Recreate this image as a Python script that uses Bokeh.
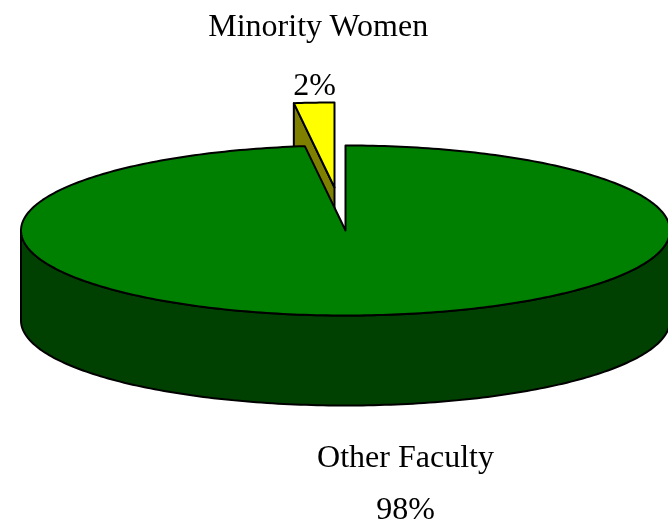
import numpy as np
from bokeh.plotting import figure
from bokeh.embed import file_html
from bokeh.resources import INLINE
from bokeh.core.properties import value

categories = ["Minority Women", "Other Faculty"]
shares = [2, 98]
percent_labels = ["2%", "98%"]
colors_top = ["#FFFF00", "#008000"]
colors_side = ["#808000", "#004000"]

CX, CY, RX, RY, DEPTH = 345, 230, 324.5, 85, 90
EXPLODE_DX, EXPLODE_DY = -11, -43
FONT = value("Liberation Serif")

p = figure(width=668, height=526, x_range=(0, 668), y_range=(526, 0),
           output_backend="svg", toolbar_location=None, min_border=0,
           outline_line_color=None, background_fill_color="white")
p.axis.visible = False
p.grid.visible = False
p.styles = {"position": "fixed", "left": "0", "top": "0"}

def ell(frac, dx=0, dy=0):
    t = np.asarray(frac) * 2 * np.pi
    return CX + dx + RX * np.sin(t), CY + dy - RY * np.cos(t)

end_green = shares[1] / sum(shares)
LINE = dict(line_color="black", line_width=2, line_join="round")

# wall of the large slice (front half of the ellipse)
f = np.linspace(0.25, 0.75, 181)
x, y = ell(f)
p.patch(np.r_[x, x[::-1]], np.r_[y + DEPTH, y[::-1]], fill_color=colors_side[1], **LINE)

# exploded small slice: cut face, then top
f = np.linspace(end_green, 1.0, 12)
x, y = ell(f, EXPLODE_DX, EXPLODE_DY)
ax, ay = CX + EXPLODE_DX, CY + EXPLODE_DY
p.patch([x[0], ax, ax, x[0]], [y[0], ay, ay + DEPTH, y[0] + DEPTH],
        fill_color=colors_side[0], **LINE)
p.patch(np.r_[ax, x], np.r_[ay, y], fill_color=colors_top[0], **LINE)

# top of the large slice
f = np.linspace(0, end_green, 361)
x, y = ell(f)
p.patch(np.r_[CX, x], np.r_[CY, y], fill_color=colors_top[1], **LINE)

common = dict(text_font=FONT, text_font_size="32px", text_color="black",
              text_align="center", text_baseline="alphabetic")
p.text([318], [24], text=[categories[0]], **common)
p.text([314], [83.5], text=[percent_labels[0]], **common)
p.text([405], [455], text=[categories[1]], **common)
p.text([405], [507], text=[percent_labels[1]], **common)

open("out.html", "w").write(file_html(p, INLINE))
